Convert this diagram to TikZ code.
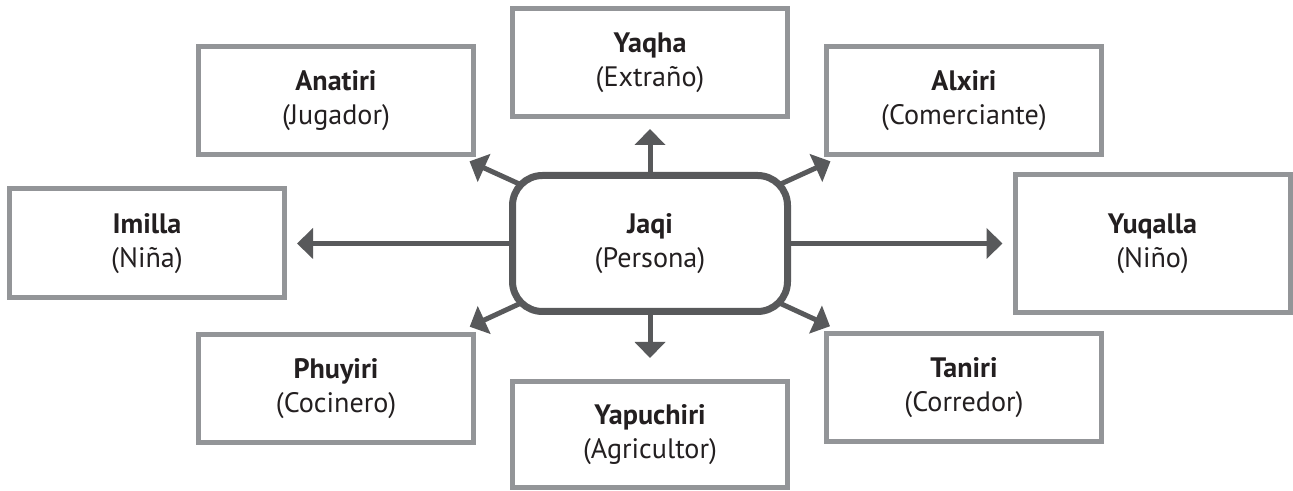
\documentclass[tikz,border=0pt]{standalone}
\usepackage{fontspec}
\setmainfont{PT Sans}
\usetikzlibrary{arrows.meta, backgrounds}
\definecolor{boxgray}{HTML}{939598}
\definecolor{jaqigray}{HTML}{58595B}
\definecolor{inkblack}{HTML}{231F20}
\tikzset{
    rolebox/.style={rectangle, draw=boxgray, line width=0.1cm, fill=white, minimum width=5.5cm, minimum height=2.16cm, inner sep=0pt, outer sep=0pt, align=center, text=inkblack, font=\fontsize{16}{19.4}\selectfont},
    centerbox/.style={rectangle, rounded corners=0.6cm, draw=jaqigray, line width=0.14cm, fill=white, minimum width=5.5cm, minimum height=2.72cm, inner sep=0pt, outer sep=0pt, align=center, text=inkblack, font=\fontsize{16}{19.4}\selectfont},
    rolearrow/.style={-{Triangle[length=0.32cm,width=0.6cm]}, line width=0.1cm, draw=jaqigray, shorten >=0.25cm}
}
\begin{document}
\begin{tikzpicture}
    \useasboundingbox (0,0) rectangle (25.86,9.82);
    \node[centerbox] (jaqi) at (13,4.95) {\textbf{Jaqi}\\(Persona)};

    \node[rolebox] (yaqha) at (13,8.57) {\textbf{Yaqha}\\(Extraño)};
    \node[rolebox] (anatiri) at (6.72,7.81) {\textbf{Anatiri}\\(Jugador)};
    \node[rolebox] (alxiri) at (19.28,7.81) {\textbf{Alxiri}\\(Comerciante)};
    \node[rolebox, minimum height=2.18cm] (imilla) at (2.94,4.95) {\textbf{Imilla}\\(Niña)};
    \node[rolebox, minimum height=2.76cm] (yuqalla) at (23.05,4.95) {\textbf{Yuqalla}\\(Niño)};
    \node[rolebox] (phuyiri) at (6.72,2.05) {\textbf{Phuyiri}\\(Cocinero)};
    \node[rolebox, minimum height=2.12cm] (yapuchiri) at (13,1.13) {\textbf{Yapuchiri}\\(Agricultor)};
    \node[rolebox] (taniri) at (19.28,2.06) {\textbf{Taniri}\\(Corredor)};

    % Arrows out of Jaqi, kept under the boxes
    \begin{scope}[on background layer]
        \draw[rolearrow] (jaqi.center) -- (yaqha);
        \draw[rolearrow, shorten >=0.47cm] (jaqi.center) -- (yapuchiri);
        \draw[rolearrow] (jaqi.center) -- (imilla);
        \draw[rolearrow] (jaqi.center) -- (yuqalla);
        \draw[rolearrow, shorten >=0.33cm] (jaqi.center) -- (anatiri);
        \draw[rolearrow, shorten >=0.33cm] (jaqi.center) -- (alxiri);
        \draw[rolearrow, shorten >=0.37cm] (jaqi.center) -- (phuyiri);
        \draw[rolearrow, shorten >=0.37cm] (jaqi.center) -- (taniri);
    \end{scope}
\end{tikzpicture}
\end{document}
